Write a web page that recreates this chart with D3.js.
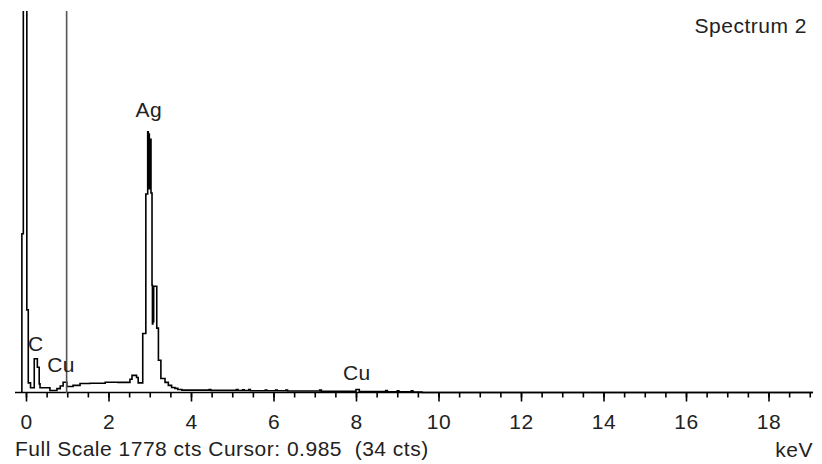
<!DOCTYPE html>
<html>
<head>
<meta charset="utf-8">
<script src="https://cdn.jsdelivr.net/npm/d3@7"></script>
<style>
  body { margin: 0; background: #fff; }
  svg text { font-family: "Liberation Sans", Arial, sans-serif; font-size: 21px; fill: #222; white-space: pre; letter-spacing: 0.5px; }
</style>
</head>
<body>
<div id="chart"></div>
<script>
// spectrum channels: start energy (keV) and counts (step plot)
const energies = [-0.10, -0.065, 0.02, 0.055, 0.11, 0.20, 0.275, 0.32, 0.34, 0.58, 0.75, 0.83, 0.90, 0.99,
  1.14, 1.31, 1.55, 1.92, 2.23, 2.52, 2.57, 2.68, 2.72, 2.83, 2.905, 2.95, 2.965, 2.975, 2.99, 3.00, 3.03,
  3.055, 3.065, 3.075, 3.085, 3.095, 3.17, 3.21, 3.27, 3.37, 3.45, 3.53, 3.61, 3.68, 3.78, 4.44, 4.48,
  5.10, 5.14, 5.25, 5.29, 5.40, 5.44, 5.80, 5.84, 6.05, 6.09, 6.30, 6.34, 7.12, 7.16, 8.00, 8.08,
  8.72, 8.76, 9.00, 9.04, 9.34, 9.38, 9.60, 19.08];
const counts = [740, 2500, 385, 45, 22, 157, 118, 40, 22, 9, 18, 30, 48, 28,
  33, 42, 43, 48, 47, 62, 80, 70, 45, 275, 925, 1215, 960, 1205, 950, 1180, 930,
  500, 320, 495, 330, 495, 300, 150, 65, 47, 33, 23, 19, 14, 11, 14, 10,
  14, 9, 13, 9, 14, 8, 12, 8, 12, 8, 11, 7, 11, 6, 14, 5,
  9, 3, 8, 3, 8, 2, 0, 0];

const majorTicks = [0, 2, 4, 6, 8, 10, 12, 14, 16, 18];
const minorTicks = d3.range(0, 19.01, 0.5);

const peakLabels = ["C", "Cu", "Ag", "Cu"];
const peakEnergies = [0.24, 0.85, 2.98, 8.02];
const peakCounts = [195, 95, 1285, 60];

const fullScale = 1778;
const cursorKeV = 0.985;
const cursorCts = 34;

const W = 822, H = 464;
const svg = d3.select("#chart").append("svg").attr("width", W).attr("height", H);

const x = d3.scaleLinear().domain([0, 18]).range([26, 768.5]);
const xLeft = x.invert(15), xRight = x.invert(813);
const y = d3.scaleLinear().domain([0, fullScale]).range([392.5, 11]);

svg.append("clipPath").attr("id", "plot")
  .append("rect").attr("x", 0).attr("y", 11).attr("width", W).attr("height", 390);

// axis
const axisG = svg.append("g").attr("transform", "translate(0,392.5)");
axisG.call(d3.axisBottom(x.copy().domain([xLeft, xRight]).range([15, 813]))
  .tickValues(minorTicks).tickSize(5).tickSizeOuter(0).tickFormat(""));
axisG.select(".domain").remove();
axisG.append("line").attr("x1", 15).attr("x2", 813).attr("stroke", "#000").attr("stroke-width", 1.6);
const majG = svg.append("g").attr("transform", "translate(0,392.5)");
majG.call(d3.axisBottom(x).tickValues(majorTicks).tickSize(9).tickSizeOuter(0).tickFormat(d3.format("d")));
majG.select(".domain").remove();
svg.selectAll(".tick line").attr("stroke", "#000").attr("stroke-width", 1.6);
majG.selectAll("text").attr("y", 36.5).attr("dy", 0)
  .style("font-family", "Liberation Sans, Arial, sans-serif").style("font-size", "21px").attr("fill", "#222");

// spectrum
const pts = energies.map((e, i) => [e, counts[i]]);
const line = d3.line().x(d => x(d[0])).y(d => y(d[1])).curve(d3.curveStepAfter);
svg.append("path").datum([[energies[0], 0]].concat(pts))
  .attr("clip-path", "url(#plot)")
  .attr("d", line).attr("fill", "none").attr("stroke", "#000").attr("stroke-width", 1.6);

// cursor line
svg.append("line").attr("x1", x(cursorKeV)).attr("x2", x(cursorKeV))
  .attr("y1", y(fullScale)).attr("y2", 393).attr("stroke", "#555").attr("stroke-width", 1.6);

// peak labels
svg.selectAll(".pk").data(peakLabels).enter().append("text")
  .attr("x", (d, i) => x(peakEnergies[i])).attr("y", (d, i) => y(peakCounts[i]))
  .attr("text-anchor", "middle").text(d => d);

svg.append("text").attr("x", 807).attr("y", 33).attr("text-anchor", "end").text("Spectrum 2");
svg.append("text").attr("x", 15).attr("y", 456)
  .text("Full Scale " + fullScale + " cts Cursor: " + cursorKeV + "  (" + cursorCts + " cts)");
svg.append("text").attr("x", 813).attr("y", 457).attr("text-anchor", "end").text("keV");
</script>
</body>
</html>
